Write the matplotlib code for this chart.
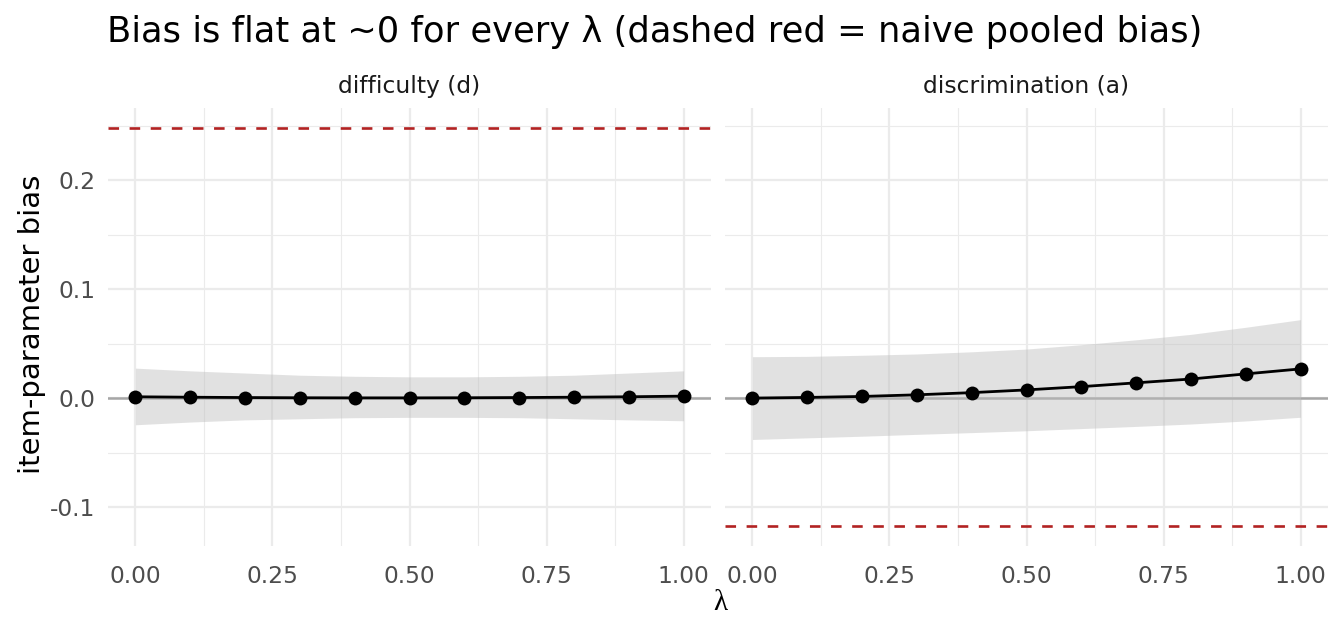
import numpy as np
import matplotlib
matplotlib.use("Agg")
import matplotlib.pyplot as plt

# data
lam = [0.0, 0.1, 0.2, 0.3, 0.4, 0.5, 0.6, 0.7, 0.8, 0.9, 1.0]
panels = ["difficulty (d)", "discrimination (a)"]

bias_d = [0.0012, 0.0008, 0.0005, 0.0003, 0.0002, 0.0002, 0.0003, 0.0005, 0.0008, 0.0012, 0.0018]
lo_d = [-0.0245, -0.022, -0.020, -0.019, -0.018, -0.0177, -0.0177, -0.018, -0.019, -0.020, -0.0208]
hi_d = [0.0275, 0.025, 0.023, 0.021, 0.020, 0.0195, 0.0195, 0.020, 0.021, 0.023, 0.025]

bias_a = [0.0, 0.0006, 0.0015, 0.003, 0.005, 0.0075, 0.0105, 0.014, 0.0175, 0.0222, 0.0268]
lo_a = [-0.038, -0.0365, -0.035, -0.0333, -0.0317, -0.030, -0.028, -0.026, -0.0238, -0.021, -0.0176]
hi_a = [0.038, 0.0383, 0.0393, 0.0405, 0.0425, 0.045, 0.049, 0.0535, 0.0585, 0.065, 0.072]

naive = [0.248, -0.1175]

series = [(bias_d, lo_d, hi_d), (bias_a, lo_a, hi_a)]

W, H = 1344, 633
fig = plt.figure(figsize=(W / 100, H / 100), dpi=100, facecolor="white")

base = 21  # ggplot-like base size
small = 0.8 * base


def px_axes(x0, x1, y0, y1):
    # pixel box (top-left origin) -> figure fractions
    return fig.add_axes([x0 / W, 1 - y1 / H, (x1 - x0) / W, (y1 - y0) / H])


ymin = min(min(lo_d), min(lo_a), min(naive))
ymax = max(max(hi_d), max(hi_a), max(naive))
pad = 0.05 * (ymax - ymin)

boxes = [(108, 711), (725, 1328)]
grid_col = "#EBEBEB"
for i, (name, (b, lo, hi)) in enumerate(zip(panels, series)):
    ax = px_axes(boxes[i][0], boxes[i][1], 108, 546)
    ax.set_xlim(-0.05, 1.05)
    ax.set_ylim(ymin - pad, ymax + pad)
    for s in ax.spines.values():
        s.set_visible(False)
    ax.set_xticks([0, 0.25, 0.5, 0.75, 1.0])
    ax.set_xticklabels(["0.00", "0.25", "0.50", "0.75", "1.00"])
    ax.set_xticks([0.125, 0.375, 0.625, 0.875], minor=True)
    ax.set_yticks([-0.1, 0.0, 0.1, 0.2])
    ax.set_yticklabels(["-0.1", "0.0", "0.1", "0.2"])
    ax.set_yticks([-0.05, 0.05, 0.15, 0.25], minor=True)
    ax.grid(True, which="major", color=grid_col, lw=1.6, zorder=0)
    ax.grid(True, which="minor", color=grid_col, lw=0.8, zorder=0)
    ax.tick_params(which="both", length=0, labelsize=small, labelcolor="#4D4D4D")
    ax.tick_params(axis="x", pad=14)
    ax.tick_params(axis="y", pad=9)
    if i == 1:
        ax.tick_params(labelleft=False)
    ax.set_axisbelow(True)

    ax.axhline(0, color="#A6A6A6", lw=1.8, zorder=1)
    ax.fill_between(lam, lo, hi, color="#BEBEBE", alpha=0.45, lw=0, zorder=2)
    ax.plot(lam, b, color="black", lw=2.0, zorder=3)
    ax.scatter(lam, b, s=100, color="black", lw=0, zorder=4)
    ax.axhline(naive[i], color="#B22222", lw=1.9, ls=(0, (4, 4)), zorder=3)

    fig.text((boxes[i][0] + boxes[i][1]) / 2 / W, 1 - 86 / H, name,
             ha="center", va="center", fontsize=small, color="#1A1A1A")

fig.text(107 / W, 1 - 32 / H, "Bias is flat at ~0 for every \u03bb (dashed red = naive pooled bias)",
         ha="left", va="center", fontsize=25.4, color="black")
fig.text(32 / W, 1 - 324 / H, "item-parameter bias", rotation=90,
         ha="center", va="center", fontsize=base, color="black")
fig.text(720 / W, 1 - 603 / H, "\u03bb", ha="center", va="center",
         fontsize=base, color="black", family="Liberation Serif")

fig.savefig("out.png", dpi=100, facecolor="white")
